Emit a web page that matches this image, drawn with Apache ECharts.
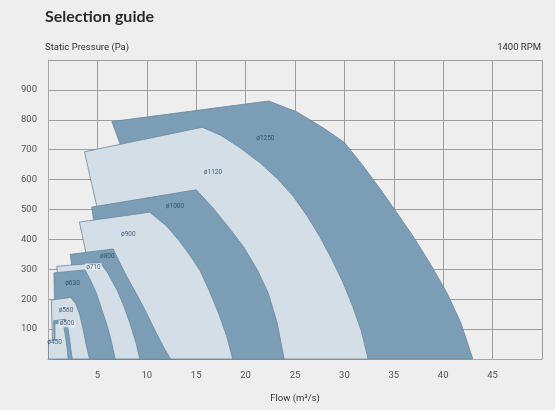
<!DOCTYPE html>
<html>
<head>
<meta charset="utf-8">
<script src="https://cdn.jsdelivr.net/npm/echarts@6/dist/echarts.min.js"></script>
<style>
html,body{margin:0;padding:0;background:#eeeeee;}
#c{width:555px;height:410px;}
</style>
</head>
<body>
<div id="c"></div>
<script>
// Region names (largest drawn first)
const regionNames = ['ø1250','ø1120','ø1000','ø900','ø800','ø710','ø630','ø560','ø500','ø450'];

// Region outlines: [flow m³/s, static pressure Pa]
const d1250 = [[6.46,794],[22.35,863],[25.2,826],[28.0,770],[30.0,724],[31.8,650],[33.7,565],[35.4,485],[37.0,408],[38.7,318],[40.4,220],[41.8,120],[43.0,0],[7.3,0],[7.3,719]];
const d1120 = [[3.69,693],[15.6,775],[17.5,748],[19.5,705],[21.5,655],[23.3,600],[24.8,545],[26.2,480],[27.5,410],[28.7,335],[29.8,260],[30.8,180],[31.7,95],[32.4,0],[4.94,0],[4.94,511]];
const d1000 = [[4.43,508],[15.0,566],[16.7,505],[18.3,440],[19.8,375],[21.2,297],[22.3,220],[23.2,120],[23.9,0],[4.6,0],[4.6,465]];
const d900  = [[3.18,458],[10.3,491],[12.0,445],[13.3,395],[14.5,340],[15.4,295],[16.3,230],[17.3,150],[18.1,75],[18.7,0],[3.83,0],[3.83,357]];
const d800  = [[2.25,350],[6.6,368],[7.3,320],[8.0,274],[9.0,215],[10.0,152],[10.9,90],[11.7,40],[12.4,0],[2.4,0],[2.4,314]];
const d710  = [[0.88,310],[5.3,322],[6.0,290],[7.0,230],[7.7,175],[8.3,119],[8.9,55],[9.3,0],[0.95,0],[0.95,289]];
const d630  = [[0.6,288],[3.75,298],[4.2,270],[4.9,220],[5.5,160],[6.0,110],[6.4,60],[6.8,0],[0.65,0],[0.65,199]];
const d560  = [[0.34,197],[2.3,206],[2.8,185],[3.2,150],[3.55,100],[3.85,50],[4.2,0],[0.45,0],[0.45,63]];
const d500  = [[0.58,128],[1.8,133],[2.0,105],[2.15,75],[2.3,38],[2.45,0],[0.6,0],[0.6,64]];
const d450  = [[0.05,62],[0.7,64],[0.7,118],[1.55,121],[1.75,80],[1.92,40],[2.05,0],[0.05,0]];

// Label anchor points
const labelPoints = [[22.0,737],[16.7,624],[12.85,510],[8.13,417],[6.0,343],[4.6,308],[2.48,252],[1.82,163],[1.92,118],[0.66,57]];

// Axis ticks
const xTicks = [5,10,15,20,25,30,35,40,45];
const yTicks = [100,200,300,400,500,600,700,800,900];

const outlines = [d1250,d1120,d1000,d900,d800,d710,d630,d560,d500,d450];

const DARK = '#7b9db6';
const LIGHT = '#d4dee6';
const EDGE = '#6a889e';
const FONT = 'Roboto, "Open Sans", sans-serif';

const chart = echarts.init(document.getElementById('c'), null, {renderer:'canvas'});

const option = {
  backgroundColor: '#eeeeee',
  animation: false,
  textStyle: {fontFamily: FONT},
  grid: {left: 48, right: 13, top: 60, bottom: 51, show: false},
  graphic: [
    {type:'text', left: 45, top: 9, style:{text:'Selection guide', font:'bold 16px Lato, "Open Sans", sans-serif', fill:'#2a2a2a'}},
    {type:'text', left: 45, top: 43, style:{text:'Static Pressure (Pa)', font:'9.5px '+FONT, fill:'#333'}},
    {type:'text', right: 14, top: 43, style:{text:'1400 RPM', font:'9.5px '+FONT, fill:'#333'}}
  ],
  xAxis: {
    type: 'value', min: 0, max: 50, interval: 5,
    name: 'Flow (m³/s)', nameLocation: 'middle', nameGap: 35,
    nameTextStyle: {fontSize: 9.5, color: '#333', fontFamily: FONT},
    axisLine: {show: true, lineStyle: {color: '#a8a8a8', width: 1}},
    axisTick: {show: false},
    axisLabel: {
      fontSize: 9.5, color: '#555', margin: 12, fontFamily: FONT,
      formatter: v => xTicks.includes(v) ? String(v) : ''
    },
    splitLine: {show: true, lineStyle: {color: '#9e9e9e', width: 1}}
  },
  yAxis: {
    type: 'value', min: 0, max: 1000, interval: 100,
    axisLine: {show: true, lineStyle: {color: '#a8a8a8', width: 1}},
    axisTick: {show: false},
    axisLabel: {
      fontSize: 9.5, color: '#555', margin: 11, fontFamily: FONT,
      formatter: v => yTicks.includes(v) ? String(v) : ''
    },
    splitLine: {show: true, lineStyle: {color: '#9e9e9e', width: 1}}
  },
  series: [
    {
      type: 'custom',
      coordinateSystem: 'cartesian2d',
      data: regionNames.map((n, i) => [i]),
      encode: {x: -1, y: -1},
      renderItem: (params, api) => {
        const i = params.dataIndex;
        const pts = outlines[i].map(p => api.coord(p));
        return {
          type: 'polygon',
          shape: {points: pts},
          style: {fill: i % 2 === 0 ? DARK : LIGHT, stroke: EDGE, lineWidth: 0.8}
        };
      },
      z: 2
    },
    {
      type: 'scatter',
      symbolSize: 0,
      data: labelPoints.map((p, i) => ({
        value: p, name: regionNames[i],
        label: (regionNames[i] === 'ø710' || regionNames[i] === 'ø500')
          ? {backgroundColor: '#e9eef2', padding: [0, 1]} : {}
      })),
      label: {
        show: true, position: 'inside', formatter: '{b}',
        fontSize: 6.5, color: '#24425e', fontFamily: FONT
      },
      z: 5,
      silent: true
    }
  ]
};
chart.setOption(option);
</script>
</body>
</html>
